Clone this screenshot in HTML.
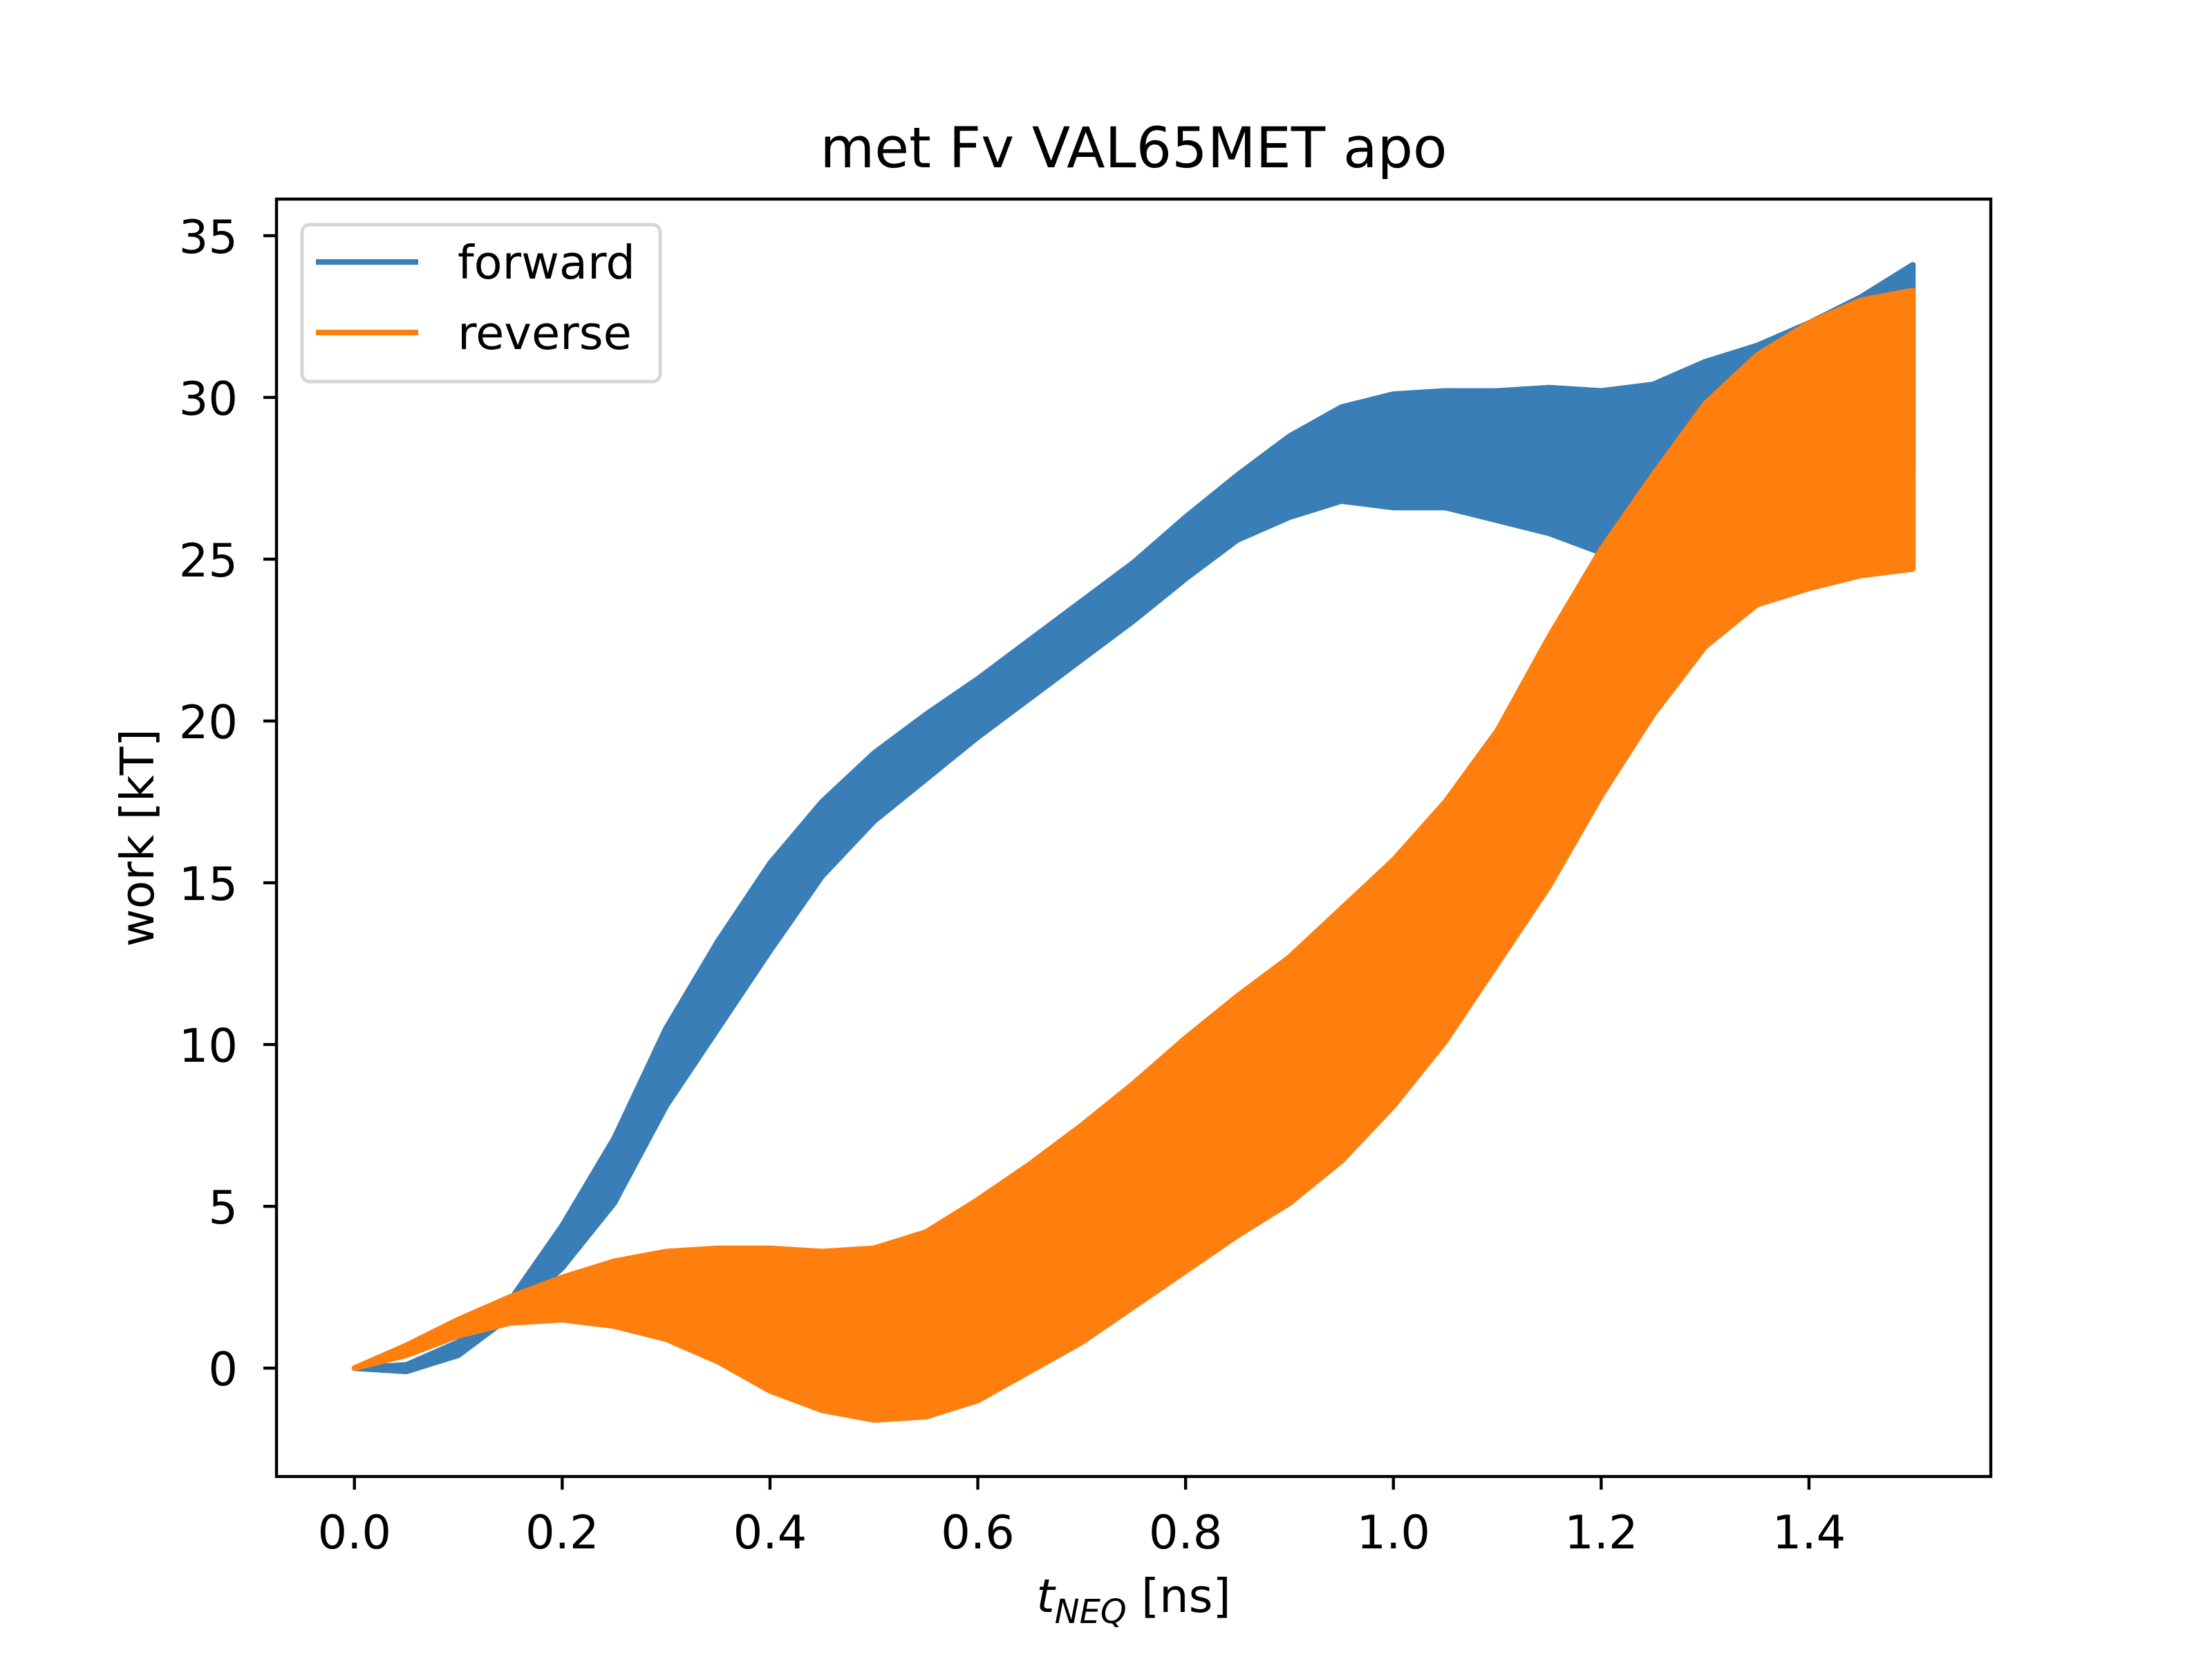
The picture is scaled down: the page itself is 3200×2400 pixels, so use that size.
<!DOCTYPE html>
<html><head><meta charset="utf-8"><style>
html,body{margin:0;padding:0;background:#fff;}
svg{display:block;font-family:"DejaVu Sans","Liberation Sans",sans-serif;}
</style></head><body>
<svg id="chart" width="3200" height="2400" viewBox="0 0 3200 2400">
<rect width="3200" height="2400" fill="#fff"/>
<g id="plot"></g>
<g id="axes"></g>
<text x="1640" y="242" font-size="81" text-anchor="middle">met Fv VAL65MET apo</text>
<text x="1640" y="2332" font-size="67" text-anchor="middle"><tspan font-style="italic">t</tspan><tspan font-style="italic" font-size="48" dy="16">NEQ</tspan><tspan dy="-16"> [ns]</tspan></text>
<text transform="translate(222,1212) rotate(-90)" font-size="67" text-anchor="middle">work [kT]</text>
<g>
<rect x="437" y="325" width="518" height="227" rx="11" fill="#fff" fill-opacity="0.8" stroke="#d6d6d6" stroke-width="5"/>
<line x1="457" y1="379" x2="605" y2="379" stroke="#3a7eb8" stroke-width="8"/>
<text x="662" y="403" font-size="67">forward</text>
<line x1="457" y1="481" x2="605" y2="481" stroke="#ff7f0e" stroke-width="8"/>
<text x="662" y="505" font-size="67">reverse</text>
</g>
</svg>
<script>
const tValues = [0,0.05,0.1,0.15,0.2,0.25,0.3,0.35,0.4,0.45,0.5,0.55,0.6,0.65,0.7,0.75,0.8,0.85,0.9,0.95,1.0,1.05,1.1,1.15,1.2,1.25,1.3,1.35,1.4,1.45,1.5];
const forwardUpper = [0,0.1,0.8,2.1,4.4,7.1,10.5,13.2,15.6,17.5,19.0,20.2,21.3,22.5,23.7,24.9,26.3,27.6,28.8,29.7,30.1,30.2,30.2,30.3,30.2,30.4,31.1,31.6,32.3,33.1,34.1];
const forwardMid = [0,0,0.6,1.8,3.7,6.1,9.3,11.8,14.2,16.3,17.9,19.2,20.4,21.6,22.8,24.0,25.2,26.6,27.6,28.3,28.7,28.8,28.8,28.7,28.6,28.8,29.4,30.2,31.0,31.8,32.7];
const forwardLower = [0,-0.1,0.4,1.6,3.1,5.1,8.1,10.5,12.9,15.2,16.9,18.2,19.5,20.7,21.9,23.1,24.4,25.6,26.3,26.8,26.6,26.6,26.2,25.8,25.2,25.4,26.0,26.6,27.0,27.4,27.7];
const reverseUpper = [0,0.7,1.5,2.2,2.8,3.3,3.6,3.7,3.7,3.6,3.7,4.2,5.2,6.3,7.5,8.8,10.2,11.5,12.7,14.2,15.7,17.5,19.7,22.6,25.3,27.6,29.8,31.3,32.3,33.0,33.3];
const reverseMid = [0,0.5,1.2,1.9,2.3,2.4,2.2,1.8,1.2,0.6,0.4,0.8,1.8,3.1,4.4,5.8,7.1,8.5,9.7,11.1,12.7,14.5,16.7,19.3,22.2,24.8,26.8,28.4,29.6,30.4,30.8];
const reverseLower = [0,0.4,1.0,1.4,1.5,1.3,0.9,0.2,-0.7,-1.3,-1.6,-1.5,-1.0,-0.1,0.8,1.9,3.0,4.1,5.1,6.4,8.1,10.1,12.5,14.9,17.7,20.2,22.3,23.6,24.1,24.5,24.7];
const xTicks = [0,0.2,0.4,0.6,0.8,1.0,1.2,1.4];
const xTickLabels = ["0.0","0.2","0.4","0.6","0.8","1.0","1.2","1.4"];
const yTicks = [0,5,10,15,20,25,30,35];
const yTickLabels = ["0","5","10","15","20","25","30","35"];

const L=400,R=2880,T=288,B=2136;
const XMIN=-0.075,XMAX=1.575,YMIN=-3.35,YMAX=36.13;
function sx(v){return L+(v-XMIN)/(XMAX-XMIN)*(R-L);}
function sy(v){return B-(v-YMIN)/(YMAX-YMIN)*(B-T);}
const NS="http://www.w3.org/2000/svg";
const plot=document.getElementById('plot');
const axes=document.getElementById('axes');
function pts(arr){return arr.map((v,i)=>sx(tValues[i]).toFixed(1)+","+sy(v).toFixed(1));}

function band(up,lo,color,name){
  const p=document.createElementNS(NS,'polygon');
  p.setAttribute('points',pts(up).concat(pts(lo).reverse()).join(' '));
  p.setAttribute('fill',color);
  p.setAttribute('stroke',color);
  p.setAttribute('stroke-width','8');
  p.setAttribute('stroke-linejoin','round');
  
  
  plot.appendChild(p);
}
function line(arr,color,name){
  const p=document.createElementNS(NS,'polyline');
  p.setAttribute('points',pts(arr).join(' '));
  p.setAttribute('fill','none');
  p.setAttribute('stroke',color);
  p.setAttribute('stroke-width','8.3');
  p.setAttribute('stroke-linejoin','round');
  
  
  plot.appendChild(p);
}
const BLUE="#3a7eb8",ORANGE="#ff7f0e";
band(forwardUpper,forwardLower,BLUE,'forward-band');
line(forwardUpper,BLUE,'forward-upper-line');
line(forwardMid,BLUE,'forward-mid-line');
line(forwardLower,BLUE,'forward-lower-line');
band(reverseUpper,reverseLower,ORANGE,'reverse-band');
line(reverseUpper,ORANGE,'reverse-upper-line');
line(reverseMid,ORANGE,'reverse-mid-line');
line(reverseLower,ORANGE,'reverse-lower-line');

const frame=document.createElementNS(NS,'rect');
frame.setAttribute('x',L);frame.setAttribute('y',T);
frame.setAttribute('width',R-L);frame.setAttribute('height',B-T);
frame.setAttribute('fill','none');frame.setAttribute('stroke','#000');frame.setAttribute('stroke-width','4.4');


axes.appendChild(frame);

xTicks.forEach((v,i)=>{
  const x=sx(v);
  const t=document.createElementNS(NS,'line');
  t.setAttribute('x1',x);t.setAttribute('x2',x);t.setAttribute('y1',B);t.setAttribute('y2',B+19);
  t.setAttribute('stroke','#000');t.setAttribute('stroke-width','4.4');
  
  
  axes.appendChild(t);
  const tx=document.createElementNS(NS,'text');
  tx.setAttribute('x',x);tx.setAttribute('y',2240);
  tx.setAttribute('font-size','67');tx.setAttribute('text-anchor','middle');
  tx.textContent=xTickLabels[i];
  
  
  axes.appendChild(tx);
});
yTicks.forEach((v,i)=>{
  const y=sy(v);
  const t=document.createElementNS(NS,'line');
  t.setAttribute('x1',L-19);t.setAttribute('x2',L);t.setAttribute('y1',y);t.setAttribute('y2',y);
  t.setAttribute('stroke','#000');t.setAttribute('stroke-width','4.4');
  
  
  axes.appendChild(t);
  const tx=document.createElementNS(NS,'text');
  tx.setAttribute('x',L-56);tx.setAttribute('y',y+25);
  tx.setAttribute('font-size','67');tx.setAttribute('text-anchor','end');
  tx.textContent=yTickLabels[i];
  
  
  axes.appendChild(tx);
});
</script>
</body></html>
